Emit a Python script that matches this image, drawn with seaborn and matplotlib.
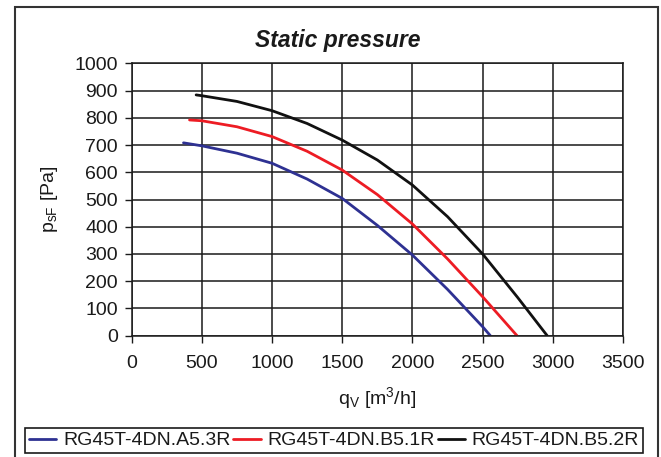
import numpy as np
import pandas as pd
import matplotlib
matplotlib.use("Agg")
import matplotlib.pyplot as plt
from matplotlib.patches import Rectangle
import seaborn as sns

# Fan curves: volume flow q_V [m3/h] vs static pressure p_sF [Pa]
series_names = ["RG45T-4DN.A5.3R", "RG45T-4DN.B5.1R", "RG45T-4DN.B5.2R"]

a53_q = [369, 500, 750, 1000, 1250, 1500, 1750, 2000, 2250, 2500, 2555]
a53_p = [708, 697, 670, 633, 575, 504, 405, 296, 170, 33, 0]

b51_q = [412, 500, 750, 1000, 1250, 1500, 1750, 2000, 2250, 2500, 2745]
b51_p = [792, 789, 767, 731, 677, 608, 518, 410, 282, 143, 0]

b52_q = [459, 500, 750, 1000, 1250, 1500, 1750, 2000, 2250, 2500, 2750, 2960]
b52_p = [884, 881, 860, 826, 779, 718, 645, 553, 437, 300, 140, 0]

x_ticks = [0, 500, 1000, 1500, 2000, 2500, 3000, 3500]
y_ticks = [0, 100, 200, 300, 400, 500, 600, 700, 800, 900, 1000]

colors = ["#2e3192", "#ed1c24", "#111111"]

frames = []
for name, q, p in zip(series_names, [a53_q, b51_q, b52_q], [a53_p, b51_p, b52_p]):
    frames.append(pd.DataFrame({"q": q, "p": p, "series": name}))
df = pd.concat(frames, ignore_index=True)

sns.set_theme(style="white")
plt.rcParams["font.family"] = ["Liberation Sans", "DejaVu Sans"]
plt.rcParams["mathtext.fontset"] = "custom"
plt.rcParams["mathtext.rm"] = "Liberation Sans"
plt.rcParams["mathtext.it"] = "Liberation Sans:italic"
plt.rcParams["mathtext.bf"] = "Liberation Sans:bold"

W, H = 661, 457
fig = plt.figure(figsize=(W / 100, H / 100), dpi=100)
ax = fig.add_axes([131.7 / W, 1 - 335.7 / H, (623 - 131.7) / W, (335.7 - 63.3) / H])

sns.lineplot(data=df, x="q", y="p", hue="series", palette=colors,
             sort=False, estimator=None, linewidth=2.0, ax=ax, legend=False)
for ln in ax.get_lines():
    ln.set_solid_joinstyle("round")

ax.set_xlim(0, 3500)
ax.set_ylim(0, 1000)
ax.set_xticks(x_ticks)
ax.set_yticks(y_ticks)
ax.grid(True, color="#1a1a1a", linewidth=1.1)
ax.set_axisbelow(True)
for s in ax.spines.values():
    s.set_color("#1a1a1a")
    s.set_linewidth(1.1)
ax.tick_params(axis="both", direction="out", length=5, width=1.0, color="#1a1a1a",
               labelsize=14, labelcolor="#1a1a1a", bottom=True, left=True)
ax.tick_params(axis="x", pad=9)
ax.tick_params(axis="y", pad=5)

ax.set_xlabel(r"q$_{\mathrm{V}}$ [m$^{3}$/h]", fontsize=14, color="#1a1a1a", labelpad=9)
ax.set_ylabel(r"p$_{\mathrm{sF}}$ [Pa]", fontsize=14, color="#1a1a1a", labelpad=10)

fig.text(338 / W, 1 - 41 / H, "Static pressure", ha="center", va="center",
         fontsize=16.5, fontweight="bold", fontstyle="italic", color="#1a1a1a")

handles = [plt.Line2D([], [], color=c, linewidth=2.0) for c in colors]
leg = fig.legend(handles, series_names, loc="center", ncol=3,
                 bbox_to_anchor=(334 / W, 1 - 440.5 / H), bbox_transform=fig.transFigure,
                 fontsize=14, frameon=True, fancybox=False, shadow=False,
                 handlelength=1.4, handletextpad=0.35, columnspacing=0.15,
                 borderpad=0.2, borderaxespad=0)
leg.get_frame().set_edgecolor("#1a1a1a")
leg.get_frame().set_linewidth(1.2)
leg.get_frame().set_facecolor("white")
leg.get_frame().set_alpha(1)
for t in leg.get_texts():
    t.set_color("#1a1a1a")

# outer border around the whole chart
fig.patches.append(Rectangle((14.7 / W, -0.02), (657.7 - 14.7) / W, 1 - 7 / H + 0.02,
                             transform=fig.transFigure, fill=False,
                             edgecolor="#333333", linewidth=1.5))

fig.savefig("out.png", dpi=100)
